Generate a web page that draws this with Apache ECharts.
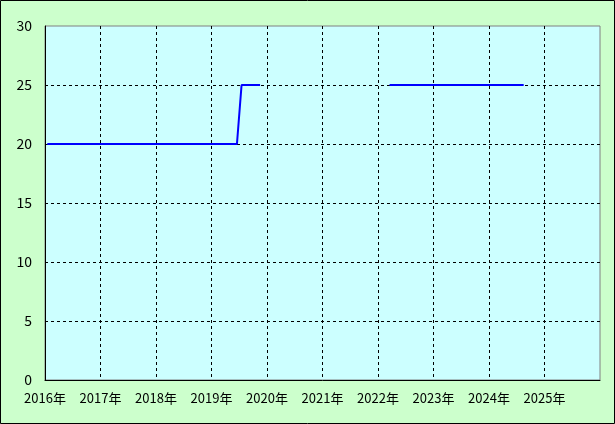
<!DOCTYPE html>
<html><head><meta charset="utf-8">
<script src="https://cdn.jsdelivr.net/npm/echarts/dist/echarts.min.js"></script>
<style>html,body{margin:0;padding:0;}#c{width:615px;height:424px;}</style>
</head><body><div id="c"></div>
<script>
// Monthly values, starting 2016-01 (null = no data)
const startYear = 2016;
const values = [
  // 2016
  20,20,20,20,20,20,20,20,20,20,20,20,
  // 2017
  20,20,20,20,20,20,20,20,20,20,20,20,
  // 2018
  20,20,20,20,20,20,20,20,20,20,20,20,
  // 2019
  20,20,20,20,20,20,25,25,25,25,25,null,
  // 2020
  null,null,null,null,null,null,null,null,null,null,null,null,
  // 2021
  null,null,null,null,null,null,null,null,null,null,null,null,
  // 2022
  null,null,25,25,25,25,25,25,25,25,25,25,
  // 2023
  25,25,25,25,25,25,25,25,25,25,25,25,
  // 2024
  25,25,25,25,25,25,25,25
];
const yearLabels = ['2016年','2017年','2018年','2019年','2020年','2021年','2022年','2023年','2024年','2025年'];
const yTicks = [0,5,10,15,20,25,30];

const data = values.map((v, i) => [i + 0.5, v]);
const font = '"Noto Sans CJK JP", sans-serif';
const chart = echarts.init(document.getElementById('c'), null, {renderer: 'canvas'});
chart.setOption({
  animation: false,
  backgroundColor: '#ccffcc',
  graphic: [{type: 'rect', z: 100, silent: true,
    shape: {x: 0.5, y: 0.5, width: 614, height: 423},
    style: {fill: 'none', stroke: '#000', lineWidth: 1}}],
  grid: {left: 45, top: 26, right: 15, bottom: 44, show: true, backgroundColor: '#ccffff', borderColor: '#808080', borderWidth: 1},
  xAxis: {
    type: 'value', min: 0, max: 120, interval: 12,
    axisLine: {show: true, lineStyle: {color: '#000', width: 1}},
    axisTick: {show: false},
    axisLabel: {color: '#000', fontFamily: font, fontSize: 13, margin: 12,
      showMaxLabel: false,
      formatter: v => yearLabels[Math.round(v / 12)] || ''},
    splitLine: {show: true, showMinLine: false, showMaxLine: false, lineStyle: {color: '#000', type: [3, 3], width: 1}}
  },
  yAxis: {
    type: 'value', min: yTicks[0], max: yTicks[yTicks.length - 1], interval: 5,
    axisLine: {show: true, lineStyle: {color: '#000', width: 1}},
    axisTick: {show: false},
    axisLabel: {color: '#000', fontFamily: font, fontSize: 14, margin: 13},
    splitLine: {show: true, showMinLine: false, showMaxLine: false, lineStyle: {color: '#000', type: [3, 3], width: 1}}
  },
  series: [{
    type: 'line', data: data, showSymbol: false, connectNulls: false,
    lineStyle: {color: '#0000ff', width: 2}
  }]
});
</script></body></html>
